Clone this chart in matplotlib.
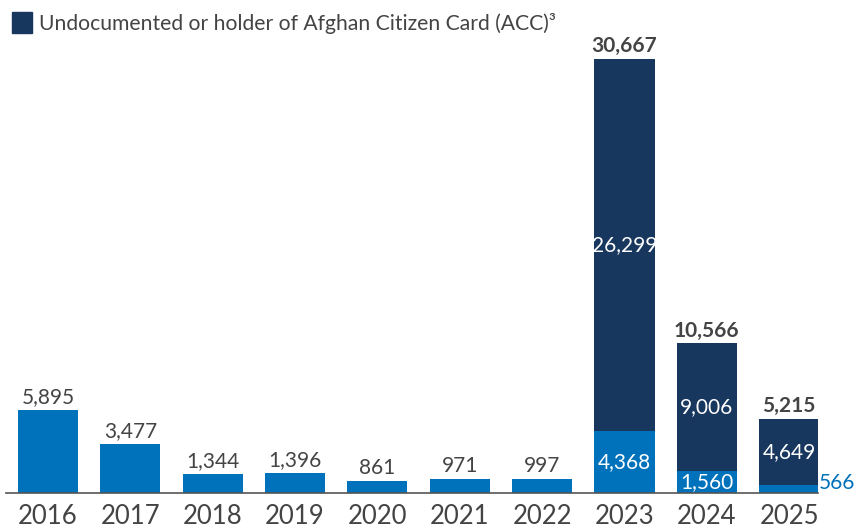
import matplotlib.pyplot as plt
from matplotlib.patches import Rectangle

plt.rcParams["font.family"] = ["Lato", "DejaVu Sans"]

years = ["2016", "2017", "2018", "2019", "2020", "2021", "2022", "2023", "2024", "2025"]
documented = [5895, 3477, 1344, 1396, 861, 971, 997, 4368, 1560, 566]
undocumented = [0, 0, 0, 0, 0, 0, 0, 26299, 9006, 4649]
totals = [5895, 3477, 1344, 1396, 861, 971, 997, 30667, 10566, 5215]

light_blue = "#0072BC"
dark_blue = "#18375F"
text_grey = "#444444"

W, H = 866, 529
fig = plt.figure(figsize=(W / 100, H / 100), dpi=100)
ax = fig.add_axes([6 / W, 36 / H, 812 / W, (493 - 30) / H])

x = list(range(len(years)))
width = 0.73
ax.bar(x, documented, width=width, color=light_blue, zorder=2)
ax.bar(x, undocumented, width=width, bottom=documented, color=dark_blue, zorder=2)

ax.set_xlim(-0.51, 9.35)
ax.set_ylim(0, 32716)

val_size = 15
for i in x:
    if undocumented[i] == 0:
        ax.annotate(f"{documented[i]:,}", (i, documented[i]), xytext=(0, 2),
                    textcoords="offset points", ha="center", va="bottom",
                    fontsize=val_size, color=text_grey)
        continue
    # stacked years: segment labels inside, bold total on top
    ax.annotate(f"{totals[i]:,}", (i, totals[i]), xytext=(0, 2),
                textcoords="offset points", ha="center", va="bottom",
                fontsize=15, fontweight="bold", color=text_grey)
    ax.text(i, documented[i] + undocumented[i] / 2, f"{undocumented[i]:,}",
            ha="center", va="center", fontsize=val_size, color="white")
    if documented[i] > 1000:
        ax.text(i, documented[i] / 2, f"{documented[i]:,}",
                ha="center", va="center", fontsize=val_size, color="white")
    else:
        ax.annotate(f"{documented[i]:,}", (i + width / 2, 0), xytext=(0, 0),
                    textcoords="offset points", ha="left", va="bottom",
                    fontsize=val_size, color=light_blue, annotation_clip=False)

ax.set_xticks(x)
ax.set_xticklabels(years, fontsize=18.5, color=text_grey)
ax.tick_params(axis="x", length=0, pad=8)
ax.set_yticks([])
for side in ["top", "right", "left"]:
    ax.spines[side].set_visible(False)
ax.spines["bottom"].set_color("#555555")
ax.spines["bottom"].set_linewidth(1.2)
ax.spines["bottom"].set_zorder(3)

fig.patches.append(Rectangle((12 / W, 1 - 33 / H), 20 / W, 21 / H,
                             transform=fig.transFigure, color=dark_blue))
fig.text(39 / W, 1 - 23 / H, "Undocumented or holder of Afghan Citizen Card (ACC)³",
         fontsize=15.2, color=text_grey, va="center", ha="left")

fig.savefig("out.png", dpi=100)
